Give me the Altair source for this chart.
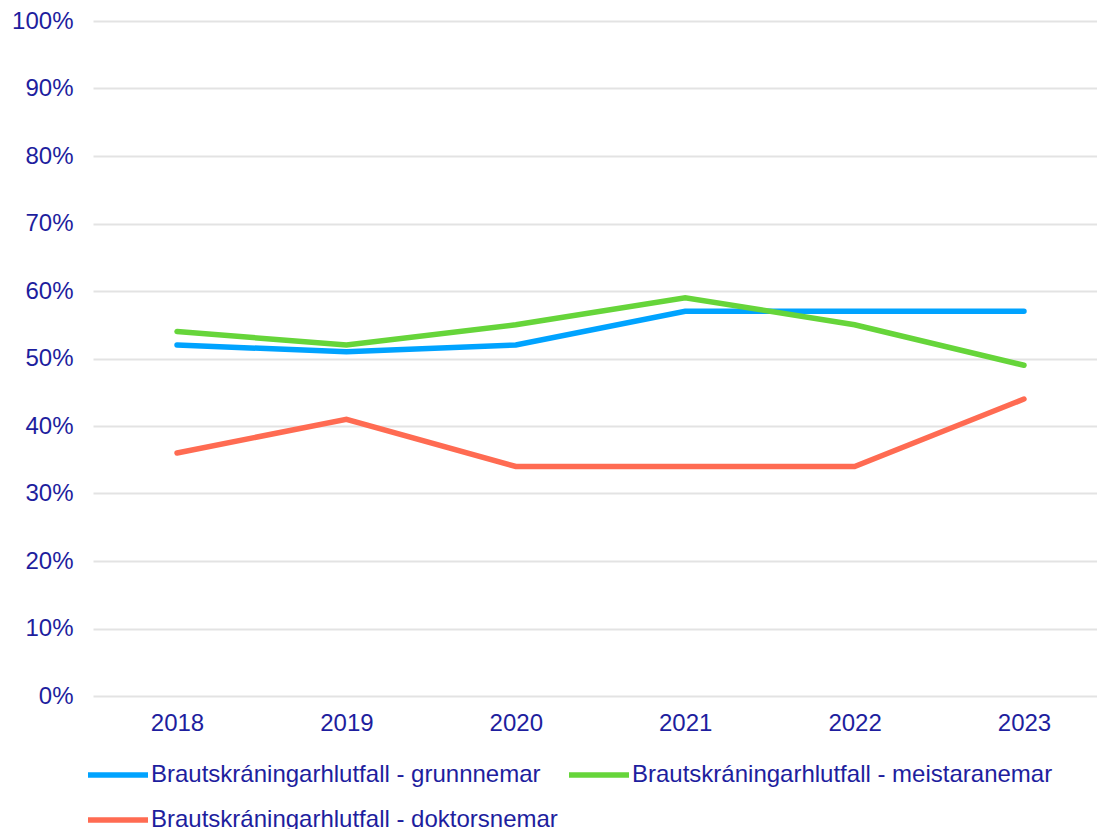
import altair as alt
import pandas as pd

years = ["2018", "2019", "2020", "2021", "2022", "2023"]
series_names = [
    "Brautskráningarhlutfall - grunnnemar",
    "Brautskráningarhlutfall - meistaranemar",
    "Brautskráningarhlutfall - doktorsnemar",
]
grunn = [0.52, 0.51, 0.52, 0.57, 0.57, 0.57]
meistara = [0.54, 0.52, 0.55, 0.59, 0.55, 0.49]
doktors = [0.36, 0.41, 0.34, 0.34, 0.34, 0.44]
colors = ["#00A3FF", "#66D53A", "#FF6B52"]

rows = []
for name, vals in zip(series_names, [grunn, meistara, doktors]):
    for y, v in zip(years, vals):
        rows.append({"Ár": y, "Hlutfall": v, "Röð": name})
df = pd.DataFrame(rows)

text_color = "#1E1E9E"
font = "Liberation Sans"

chart = alt.Chart(df).mark_line(strokeWidth=5.5, strokeCap="round").encode(
    x=alt.X("Ár:N", sort=years, title=None,
            scale=alt.Scale(type="point", padding=0.4635, align=0.535),
            axis=alt.Axis(labelAngle=0, domain=False, ticks=False, grid=False,
                          labelPadding=15, labelFontSize=24, labelColor=text_color,
                          labelFont=font)),
    y=alt.Y("Hlutfall:Q", title=None,
            scale=alt.Scale(domain=[0, 1]),
            axis=alt.Axis(format="%", values=[i / 10 for i in range(11)],
                          domain=False, ticks=False, gridColor="#E3E3E3",
                          gridWidth=2, labelPadding=20, labelFontSize=24,
                          labelColor=text_color, labelFont=font)),
    color=alt.Color("Röð:N", sort=series_names,
                    scale=alt.Scale(domain=series_names, range=colors),
                    legend=alt.Legend(title=None, orient="none", legendX=-8, legendY=721,
                                      direction="horizontal", columns=2,
                                      symbolType="stroke", symbolSize=3600,
                                      symbolStrokeWidth=5.5, labelFontSize=24,
                                      labelColor=text_color, labelFont=font,
                                      labelLimit=600, labelOffset=0,
                                      columnPadding=0, rowPadding=0)),
).properties(
    width=1004, height=675,
    autosize=alt.AutoSizeParams(type="none"),
    padding={"left": 85, "top": 13, "right": 0, "bottom": 135},
).configure_view(stroke=None)

chart.save("out.html", embed_options={"renderer": "svg", "actions": False})
